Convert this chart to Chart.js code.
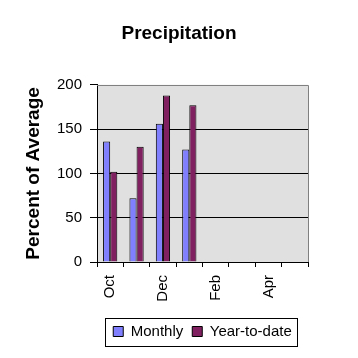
<!DOCTYPE html>
<html>
<head>
<meta charset="utf-8">
<script src="https://cdn.jsdelivr.net/npm/chart.js@4"></script>
<style>
  html, body { margin: 0; padding: 0; background: #fff; }
  #wrap { width: 358px; height: 358px; }
</style>
</head>
<body>
<div id="wrap"><canvas id="myChart" width="358" height="358"></canvas></div>
<script>
const months = ['Oct', 'Nov', 'Dec', 'Jan', 'Feb', 'Mar', 'Apr', 'May'];
const monthly = [136, 72, 156, 127, null, null, null, null];
const yearToDate = [102, 130, 188, 177, null, null, null, null];
const yTicks = [0, 50, 100, 150, 200];

const fontName = '"Liberation Sans", Arial, sans-serif';

// grey plot background, grey top/right frame, box round the legend
const frame = {
    id: 'frame',
    beforeDraw(chart) {
        const a = chart.chartArea;
        const c = chart.ctx;
        c.save();
        c.fillStyle = '#e0e0e0';
        c.fillRect(a.left, a.top, a.right - a.left, a.bottom - a.top);
        c.restore();
    },
    afterDraw(chart) {
        const a = chart.chartArea;
        const c = chart.ctx;
        c.save();
        c.strokeStyle = '#808080';
        c.lineWidth = 1;
        c.beginPath();
        c.moveTo(a.left, Math.round(a.top) + 0.5);
        c.lineTo(Math.round(a.right) + 0.5, Math.round(a.top) + 0.5);
        c.lineTo(Math.round(a.right) + 0.5, a.bottom);
        c.stroke();

        const boxes = chart.legend.legendHitBoxes;
        if (boxes && boxes.length) {
            const first = boxes[0];
            const last = boxes[boxes.length - 1];
            const cy = first.top + first.height / 2;
            const x1 = Math.round(first.left - 8) + 0.5;
            const x2 = Math.round(last.left + last.width + 5) + 0.5;
            c.strokeStyle = '#000';
            c.strokeRect(x1, Math.round(cy - 14) + 0.5, x2 - x1, 28);
        }
        c.restore();
    }
};

const ctx = document.getElementById('myChart').getContext('2d');
const chart = new Chart(ctx, {
    type: 'bar',
    data: {
        labels: months,
        datasets: [{
            label: 'Monthly',
            data: monthly,
            backgroundColor: '#8080ff',
            borderColor: '#000',
            borderWidth: 1
        }, {
            label: 'Year-to-date',
            data: yearToDate,
            backgroundColor: '#802060',
            borderColor: '#000',
            borderWidth: 1
        }]
    },
    options: {
        responsive: false,
        animation: false,
        categoryPercentage: 0.54,
        barPercentage: 1,
        layout: { padding: { top: 0, left: 0, right: 0, bottom: 9 } },
        plugins: {
            title: {
                display: true,
                text: 'Precipitation',
                color: '#000',
                font: { family: fontName, size: 19, weight: 'bold' },
                padding: { top: 22, bottom: 40 }
            },
            legend: {
                position: 'bottom',
                fullSize: false,
                labels: {
                    color: '#000',
                    font: { family: fontName, size: 15 },
                    boxWidth: 10,
                    boxHeight: 10,
                    padding: 9,
                    generateLabels(chart) {
                        return chart.data.datasets.map((ds, i) => ({
                            text: ds.label,
                            fillStyle: ds.backgroundColor,
                            strokeStyle: '#000',
                            lineWidth: 1,
                            fontColor: '#000',
                            datasetIndex: i
                        }));
                    }
                }
            },
            tooltip: { enabled: false }
        },
        scales: {
            x: {
                offset: true,
                afterFit(scale) { scale.height = 53; },
                grid: {
                    offset: true,
                    drawOnChartArea: false,
                    color: '#000',
                    tickLength: 5
                },
                border: { color: '#000' },
                ticks: {
                    autoSkip: false,
                    minRotation: 90,
                    maxRotation: 90,
                    padding: 8,
                    color: '#000',
                    font: { family: fontName, size: 15 },
                    callback: function (value, index) {
                        return index % 2 === 0 ? months[index] : '';
                    }
                }
            },
            y: {
                min: 0,
                max: 200,
                afterFit(scale) { scale.width = 97; },
                afterBuildTicks(scale) {
                    scale.ticks = yTicks.map(v => ({ value: v }));
                },
                grid: {
                    color: (c) => c.tick && c.tick.value === 200 ? 'rgba(0,0,0,0)' : '#000',
                    tickColor: '#000',
                    tickLength: 7
                },
                border: { color: '#000' },
                ticks: {
                    padding: 8,
                    color: '#000',
                    font: { family: fontName, size: 15 }
                },
                title: {
                    display: true,
                    text: 'Percent of Average',
                    color: '#000',
                    font: { family: fontName, size: 19, weight: 'bold' },
                    padding: { top: 22, bottom: 0 }
                }
            },
            // empty right-hand strip so the plot stops where the reference does
            spacer: {
                type: 'linear',
                position: 'right',
                afterFit(scale) { scale.width = 50; },
                grid: { display: false, drawOnChartArea: false },
                border: { display: false },
                ticks: { display: false }
            }
        }
    },
    plugins: [frame]
});
</script>
</body>
</html>
